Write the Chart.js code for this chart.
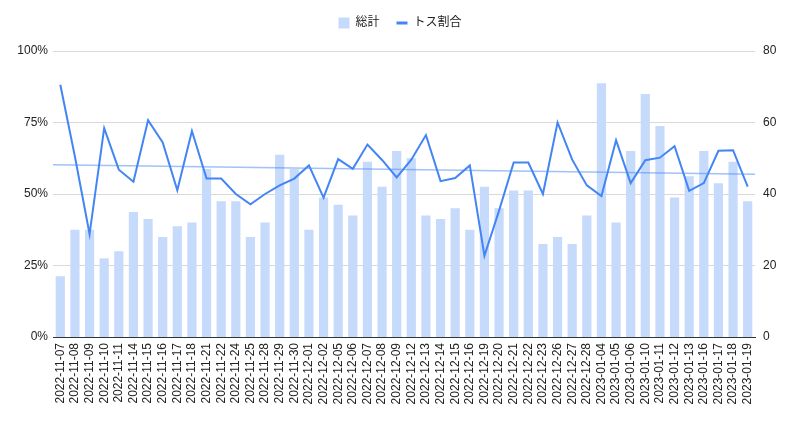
<!DOCTYPE html>
<html>
<head>
<meta charset="utf-8">
<script src="https://cdn.jsdelivr.net/npm/chart.js@4.4.0/dist/chart.umd.min.js"></script>
<style>
  html, body { margin: 0; padding: 0; background: #fff; }
  #wrap { width: 800px; height: 421px; }
</style>
</head>
<body>
<div id="wrap"><canvas id="c" width="800" height="421"></canvas></div>
<script>
const dates = [
  "2022-11-07","2022-11-08","2022-11-09","2022-11-10","2022-11-11","2022-11-14","2022-11-15","2022-11-16",
  "2022-11-17","2022-11-18","2022-11-21","2022-11-22","2022-11-24","2022-11-25","2022-11-28","2022-11-29",
  "2022-11-30","2022-12-01","2022-12-02","2022-12-05","2022-12-06","2022-12-07","2022-12-08","2022-12-09",
  "2022-12-12","2022-12-13","2022-12-14","2022-12-15","2022-12-16","2022-12-19","2022-12-20","2022-12-21",
  "2022-12-22","2022-12-23","2022-12-26","2022-12-27","2022-12-28","2023-01-04","2023-01-05","2023-01-06",
  "2023-01-10","2023-01-11","2023-01-12","2023-01-13","2023-01-16","2023-01-17","2023-01-18","2023-01-19"
];
const totals = [17,30,30,22,24,35,33,28,31,32,47,38,38,28,32,51,47,30,39,37,34,49,42,52,50,34,33,36,30,42,36,41,41,26,28,26,34,71,32,52,68,59,39,45,52,43,49,38];
const tossPct = [88.2,63,36,73,58.5,54.3,75.8,68,51.3,72,55.4,55.4,50,46.4,50,53,55.4,60,48.7,62.2,58.8,67.3,61.9,55.8,62,70.6,54.5,55.6,60,28.4,44.2,61,61,50,75,62,53,49.3,68.8,53.8,61.8,62.7,66.7,51.1,53.8,65.1,65.3,52.6];
const trendEnds = [60.2, 56.9];
const leftTicks = [0, 25, 50, 75, 100];
const rightTicks = [0, 20, 40, 60, 80];
const seriesNames = ["総計", "トス割合"];

const FONT = "'Liberation Sans', Arial, 'Noto Sans CJK JP', sans-serif";
const TXT = '#222';
const BAR = '#c6dafc';
const LINE = '#4285f4';

const legendFix = {
  id: 'legendFix',
  afterInit(chart) {
    const lg = chart.legend;
    if (!lg) return;
    const orig = lg.fit.bind(lg);
    lg.fit = function () { orig(); this.height = 51; };
  }
};

new Chart(document.getElementById('c'), {
  type: 'bar',
  data: {
    labels: dates,
    datasets: [
      {
        type: 'line', label: seriesNames[1], data: tossPct, yAxisID: 'y', xAxisID: 'x',
        borderColor: LINE, backgroundColor: LINE, borderWidth: 2, pointRadius: 0, tension: 0, order: 0
      },
      {
        type: 'line', label: 'trend', yAxisID: 'y', xAxisID: 'xt',
        data: [{x: -0.5, y: trendEnds[0]}, {x: dates.length - 0.5, y: trendEnds[1]}],
        borderColor: 'rgba(66,133,244,0.5)', borderWidth: 1.5, pointRadius: 0, order: 1
      },
      {
        type: 'bar', label: seriesNames[0], data: totals, yAxisID: 'y1', xAxisID: 'x',
        backgroundColor: BAR, borderWidth: 0, grouped: false,
        categoryPercentage: 1, barPercentage: 0.63, order: 2
      }
    ]
  },
  options: {
    responsive: false,
    animation: false,
    layout: { padding: 0 },
    plugins: {
      tooltip: { enabled: false },
      legend: {
        position: 'top',
        labels: {
          font: { family: FONT, size: 12 },
          color: TXT,
          padding: 17,
          usePointStyle: true,
          boxHeight: 11,
          pointStyleWidth: 11,
          generateLabels(chart) {
            return [
              { text: seriesNames[0], fillStyle: BAR, strokeStyle: BAR, lineWidth: 0, pointStyle: 'rect', datasetIndex: 2, fontColor: TXT },
              { text: seriesNames[1], fillStyle: LINE, strokeStyle: LINE, lineWidth: 3, pointStyle: 'line', datasetIndex: 0, fontColor: TXT }
            ];
          }
        }
      }
    },
    scales: {
      x: {
        type: 'category',
        offset: true,
        grid: { display: false, drawTicks: false },
        border: { display: true, color: '#333', width: 1 },
        ticks: {
          autoSkip: false, maxRotation: 90, minRotation: 90, padding: 6,
          font: { family: FONT, size: 12 }, color: TXT
        },
        afterFit(s) { s.height = 84; }
      },
      xt: {
        type: 'linear', display: false, offset: false, bounds: 'data',
        min: -0.5, max: dates.length - 0.5
      },
      y: {
        position: 'left', min: 0, max: 100,
        afterBuildTicks(s) { s.ticks = leftTicks.map(v => ({ value: v })); },
        grid: { color: '#d9d9d9', drawTicks: false, lineWidth: 1 },
        border: { display: false },
        ticks: { padding: 5, font: { family: FONT, size: 12 }, color: TXT, callback: v => v + '%' },
        afterFit(s) { s.width = 53; }
      },
      y1: {
        position: 'right', min: 0, max: 80,
        afterBuildTicks(s) { s.ticks = rightTicks.map(v => ({ value: v })); },
        grid: { display: false, drawTicks: false },
        border: { display: false },
        ticks: { padding: 8, font: { family: FONT, size: 12 }, color: TXT },
        afterFit(s) { s.width = 45; }
      }
    }
  },
  plugins: [legendFix]
});
</script>
</body>
</html>
